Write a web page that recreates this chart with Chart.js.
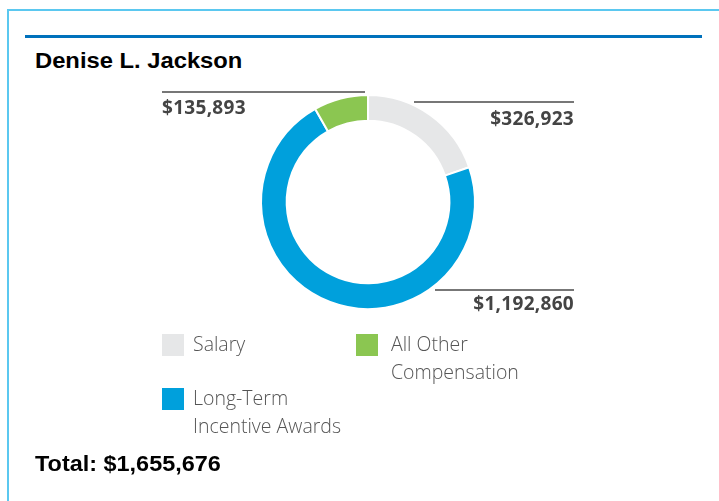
<!DOCTYPE html>
<html>
<head>
<meta charset="utf-8">
<script src="https://cdn.jsdelivr.net/npm/chart.js@4.4.1/dist/chart.umd.min.js"></script>
<style>
  html, body { margin: 0; padding: 0; background: #fff; }
  body { width: 719px; height: 501px; position: relative; overflow: hidden; }
  .frame-top { position: absolute; left: 7px; top: 9px; right: 0; height: 2px; background: #5bc8f0; }
  .frame-left { position: absolute; left: 7px; top: 9px; bottom: 0; width: 2px; background: #5bc8f0; }
  .rule { position: absolute; left: 25px; top: 35px; width: 677px; height: 3px; background: #0071bc; }
  h1 { position: absolute; left: 35px; top: 48px; margin: 0; font: bold 22px "Liberation Sans", Arial, sans-serif; color: #000; transform: scaleX(1.08); transform-origin: left top; white-space: nowrap; }
  .total { position: absolute; left: 35px; top: 451px; margin: 0; font: bold 22px "Liberation Sans", Arial, sans-serif; color: #000; transform: scaleX(1.065); transform-origin: left top; white-space: nowrap; }
  #chart { position: absolute; left: 0; top: 0; }
  .legend { position: absolute; left: 162px; top: 334px; width: 420px; }
  .item { position: absolute; display: flex; align-items: flex-start; font: 300 19.5px "Open Sans", sans-serif; color: #555; line-height: 28px; }
  .swatch { width: 22px; height: 22px; flex: none; }
  .item .txt { margin-top: -4px; white-space: nowrap; }
</style>
</head>
<body>
<div class="frame-top"></div>
<div class="frame-left"></div>
<div class="rule"></div>
<h1>Denise L. Jackson</h1>
<canvas id="chart" width="719" height="501"></canvas>
<div class="legend" id="legend"></div>
<div class="total" id="total"></div>
<script>
// Compensation components, drawn clockwise from 12 o'clock
const categories = ['Salary', 'Long-Term Incentive Awards', 'All Other Compensation'];
const legendLines = [['Salary'], ['Long-Term', 'Incentive Awards'], ['All Other', 'Compensation']];
const amounts = [326923, 1192860, 135893];
const colors = ['#e6e7e8', '#00a0dc', '#8bc651'];

const fmt = v => '$' + v.toLocaleString('en-US');

// Callout placement for each slice: leader line span and label side
const callouts = [
  { y: 102, x1: 414, x2: 574, align: 'right', textY: 125 },
  { y: 290, x1: 435, x2: 574, align: 'right', textY: 310 },
  { y: 92,  x1: 162, x2: 365, align: 'left',  textY: 114 }
];

const calloutPlugin = {
  id: 'callouts',
  afterDatasetsDraw(chart) {
    const ctx = chart.ctx;
    const data = chart.data.datasets[0].data;
    ctx.save();
    ctx.strokeStyle = '#4a4a4a';
    ctx.lineWidth = 1.5;
    ctx.fillStyle = '#444';
    ctx.font = 'bold 19px "Open Sans", sans-serif';
    ctx.letterSpacing = '0.3px';
    ctx.textBaseline = 'alphabetic';
    callouts.forEach((c, i) => {
      ctx.beginPath();
      ctx.moveTo(c.x1, c.y);
      ctx.lineTo(c.x2, c.y);
      ctx.stroke();
      ctx.textAlign = c.align;
      ctx.fillText(fmt(data[i]), c.align === 'right' ? c.x2 : c.x1, c.textY);
    });
    ctx.restore();
  }
};

const chart = new Chart(document.getElementById('chart'), {
  type: 'doughnut',
  data: {
    labels: categories,
    datasets: [{
      data: amounts,
      backgroundColor: colors,
      borderColor: '#ffffff',
      borderWidth: 2
    }]
  },
  options: {
    responsive: false,
    animation: false,
    cutout: '76%',
    rotation: 0,
    layout: { padding: { left: 260, right: 243, top: 94, bottom: 191 } },
    plugins: { legend: { display: false }, tooltip: { enabled: false } }
  },
  plugins: [calloutPlugin]
});

// Two-column legend: Salary | All Other Compensation, then Long-Term Incentive Awards
const legendPos = [[0, 0, 9], [0, 54, 9], [194, 0, 13]];
const legendEl = document.getElementById('legend');
categories.forEach((name, i) => {
  const item = document.createElement('div');
  item.className = 'item';
  item.style.left = legendPos[i][0] + 'px';
  item.style.top = legendPos[i][1] + 'px';
  const sw = document.createElement('div');
  sw.className = 'swatch';
  sw.style.background = colors[i];
  sw.style.marginRight = legendPos[i][2] + 'px';
  const txt = document.createElement('div');
  txt.className = 'txt';
  txt.innerHTML = legendLines[i].join('<br>');
  item.appendChild(sw);
  item.appendChild(txt);
  legendEl.appendChild(item);
});

document.getElementById('total').textContent =
  'Total: ' + fmt(amounts.reduce((a, b) => a + b, 0));
</script>
</body>
</html>
